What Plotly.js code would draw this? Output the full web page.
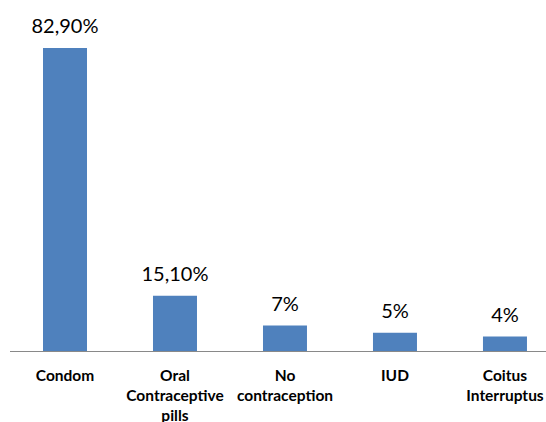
<!DOCTYPE html>
<html><head><meta charset="utf-8">
<script src="https://cdn.plot.ly/plotly-3.0.1.min.js"></script>
<style>html,body{margin:0;padding:0;background:#fff}</style>
</head><body><div id="chart" style="width:546px;height:422px"></div>
<script>
var categories = ["Condom", "Oral<br>Contraceptive<br>pills", "No<br>contraception", "IUD", "Coitus<br>Interruptus"];
var values = [82.9, 15.1, 7, 5, 4];
var labels = ["82,90%", "15,10%", "7%", "5%", "4%"];
var idx = categories.map(function(_, i){ return i; });

Plotly.newPlot('chart', [{
  type: 'bar',
  x: idx,
  y: values,
  width: 0.4,
  marker: {color: '#4F81BD'},
  hoverinfo: 'none'
}, {
  type: 'scatter',
  mode: 'markers+text',
  x: idx,
  y: values,
  text: labels,
  textposition: 'top center',
  cliponaxis: false,
  marker: {size: 14, color: 'rgba(0,0,0,0)'},
  textfont: {family: 'Lato, Carlito, sans-serif', size: 20, color: '#000'},
  hoverinfo: 'none'
}], {
  width: 546, height: 422,
  margin: {l: 10, r: 0, t: 0, b: 71},
  paper_bgcolor: '#fff', plot_bgcolor: '#fff',
  showlegend: false,
  xaxis: {
    range: [-0.5, 4.373],
    tickvals: idx,
    ticktext: categories.map(function(c){ return '<b>' + c + '</b>'; }),
    tickfont: {family: 'Lato, Carlito, sans-serif', size: 15.5, color: '#000'},
    ticklabelstandoff: 10,
    ticks: '', showline: true, linecolor: '#898989', linewidth: 1,
    showgrid: false, zeroline: false, fixedrange: true
  },
  yaxis: {
    range: [0, 96], visible: false, showgrid: false, zeroline: false, fixedrange: true
  }
}, {displayModeBar: false, staticPlot: true});
</script></body></html>
